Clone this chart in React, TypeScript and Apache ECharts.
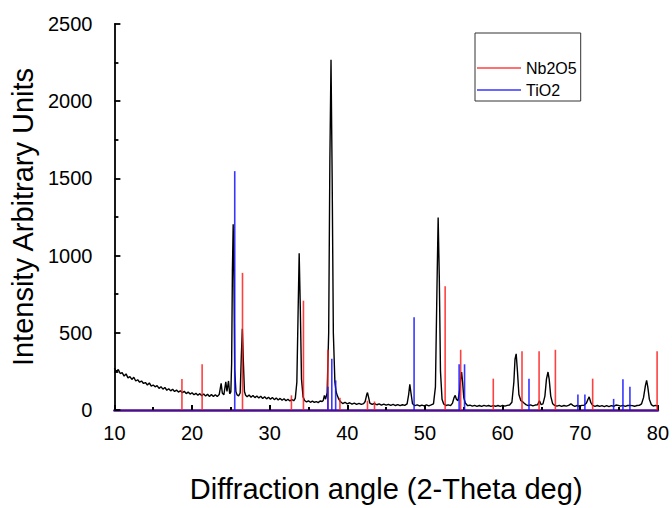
import React, { useEffect, useRef } from "react";
import * as echarts from "echarts";

// Measured XRD scan: [2-theta (deg), intensity (a.u.)]
const xrdScan: [number, number][] = [
  [10.0, 272], [10.25, 248], [10.5, 262], [10.75, 236], [11.0, 242], [11.25, 220], [11.5, 234], [11.75, 208],
  [12.0, 216], [12.25, 198], [12.5, 212], [12.75, 188], [13.0, 196], [13.25, 180], [13.5, 188], [13.75, 172],
  [14.0, 178], [14.25, 162], [14.5, 175], [14.75, 155], [15.0, 162], [15.25, 150], [15.5, 158], [15.75, 140],
  [16.0, 151], [16.25, 135], [16.5, 146], [16.75, 128], [17.0, 138], [17.25, 124], [17.5, 134], [17.75, 120],
  [18.0, 129], [18.25, 116], [18.5, 125], [18.75, 112], [19.0, 121], [19.25, 106], [19.5, 116], [19.75, 103],
  [20.0, 112], [20.25, 99], [20.5, 108], [20.75, 96], [21.0, 106], [21.25, 92], [21.5, 104], [21.75, 90],
  [22.0, 102], [22.25, 88], [22.5, 100], [22.75, 87], [23.0, 99], [23.25, 88], [23.5, 100], [23.75, 172],
  [23.9, 110], [24.1, 98], [24.35, 183], [24.5, 120], [24.7, 188], [24.85, 105], [25.0, 118], [25.1, 300],
  [25.2, 900], [25.3, 1203], [25.4, 850], [25.5, 260], [25.65, 120], [25.8, 98], [26.0, 92], [26.2, 110],
  [26.35, 350], [26.48, 526], [26.6, 330], [26.75, 120], [26.9, 96], [27.1, 86], [27.35, 97], [27.6, 83],
  [27.85, 94], [28.1, 80], [28.35, 91], [28.6, 78], [28.85, 89], [29.1, 75], [29.35, 86], [29.6, 72],
  [29.85, 83], [30.1, 70], [30.35, 81], [30.6, 67], [30.85, 78], [31.1, 65], [31.35, 75], [31.6, 63],
  [31.85, 73], [32.1, 60], [32.35, 70], [32.6, 58], [32.85, 68], [33.1, 60], [33.3, 75], [33.5, 180],
  [33.65, 600], [33.8, 1015], [33.95, 650], [34.1, 200], [34.3, 85], [34.5, 62], [34.75, 52], [35.0, 59],
  [35.25, 50], [35.5, 57], [35.75, 49], [36.0, 55], [36.25, 48], [36.5, 58], [36.75, 55], [36.9, 62],
  [37.05, 95], [37.2, 70], [37.4, 110], [37.6, 500], [37.75, 1600], [37.9, 2268], [38.05, 1500], [38.2, 500],
  [38.4, 180], [38.55, 120], [38.7, 95], [38.9, 70], [39.1, 55], [39.4, 42], [39.7, 50], [40.0, 40],
  [40.3, 47], [40.6, 38], [40.9, 45], [41.2, 37], [41.5, 43], [41.8, 36], [42.1, 41], [42.3, 55],
  [42.5, 100], [42.6, 113], [42.75, 80], [42.9, 45], [43.2, 36], [43.5, 42], [43.8, 34], [44.1, 40],
  [44.4, 32], [44.7, 38], [45.0, 31], [45.3, 37], [45.6, 30], [45.9, 36], [46.2, 29], [46.5, 35],
  [46.8, 28], [47.1, 34], [47.4, 30], [47.7, 40], [47.9, 100], [48.05, 166], [48.2, 110], [48.4, 40],
  [48.7, 28], [49.0, 33], [49.3, 26], [49.6, 32], [49.9, 27], [50.2, 33], [50.5, 27], [50.8, 33],
  [51.1, 40], [51.35, 150], [51.55, 800], [51.7, 1246], [51.85, 850], [52.0, 250], [52.2, 70], [52.4, 40],
  [52.7, 29], [53.0, 33], [53.3, 28], [53.55, 45], [53.75, 80], [53.9, 95], [54.05, 70], [54.25, 60],
  [54.45, 120], [54.6, 200], [54.72, 246], [54.85, 180], [55.0, 80], [55.2, 45], [55.5, 28], [55.8, 31],
  [56.1, 25], [56.4, 30], [56.7, 24], [57.0, 29], [57.3, 24], [57.6, 30], [57.9, 25], [58.2, 29],
  [58.5, 23], [58.8, 28], [59.1, 24], [59.4, 29], [59.7, 24], [60.0, 30], [60.3, 25], [60.6, 30],
  [60.9, 32], [61.2, 50], [61.45, 180], [61.6, 330], [61.75, 364], [61.9, 260], [62.1, 100], [62.35, 60],
  [62.55, 55], [62.75, 45], [63.0, 35], [63.3, 28], [63.6, 33], [63.9, 27], [64.2, 32], [64.5, 34],
  [64.75, 60], [64.95, 35], [65.2, 40], [65.45, 90], [65.65, 200], [65.85, 246], [66.0, 200], [66.2, 90],
  [66.45, 40], [66.7, 30], [67.0, 25], [67.3, 30], [67.6, 24], [67.9, 29], [68.2, 25], [68.5, 30],
  [68.8, 40], [69.05, 30], [69.3, 24], [69.6, 29], [69.9, 24], [70.2, 30], [70.5, 30], [70.8, 45],
  [71.0, 70], [71.15, 85], [71.35, 50], [71.6, 30], [71.9, 24], [72.2, 29], [72.5, 23], [72.8, 28],
  [73.1, 22], [73.4, 28], [73.7, 22], [74.0, 28], [74.3, 24], [74.6, 32], [74.9, 30], [75.2, 25],
  [75.5, 30], [75.8, 24], [76.1, 29], [76.4, 30], [76.7, 28], [77.0, 24], [77.3, 29], [77.6, 30],
  [77.9, 40], [78.15, 80], [78.4, 160], [78.55, 192], [78.7, 150], [78.9, 70], [79.15, 35], [79.4, 26],
  [79.7, 30], [80.0, 25],
];

// Reference pattern sticks
const nb2o5Angles = [18.7, 21.3, 26.5, 32.8, 34.35, 37.5, 39.05, 42.6, 43.5, 52.6, 54.6, 58.8, 62.5, 64.7, 66.8, 71.6, 79.9];
const nb2o5Heights = [200, 296, 888, 95, 708, 390, 80, 60, 55, 801, 390, 203, 380, 380, 390, 203, 380];
const tio2Angles = [25.5, 37.5, 38.0, 38.5, 48.6, 54.4, 55.1, 63.4, 69.7, 70.6, 74.3, 75.5, 76.4];
const tio2Heights = [1547, 150, 332, 192, 601, 296, 296, 203, 100, 100, 72, 199, 150];

const xTicks = { min: 10, max: 80, interval: 10 };
const yTicks = { min: 0, max: 2500, interval: 500 };

const FONT = "'Liberation Sans', Arial, sans-serif";

export default function App() {
  const ref = useRef<HTMLDivElement>(null);
  useEffect(() => {
    if (!ref.current) return;
    const chart = echarts.init(ref.current, undefined, { renderer: "svg" });
    const nbData = nb2o5Angles.map((a, i) => [a, nb2o5Heights[i]]);
    const tiData = tio2Angles.map((a, i) => [a, tio2Heights[i]]);
    chart.setOption({
      animation: false,
      backgroundColor: "#ffffff",
      textStyle: { fontFamily: FONT },
      grid: { left: 107, right: 14, top: 24, bottom: 96.5, containLabel: false },
      legend: {
        orient: "vertical",
        left: 475,
        top: 33,
        padding: [27, 4, 3, 2],
        itemGap: 6,
        itemWidth: 44,
        itemHeight: 1.5,
        borderColor: "#333",
        borderWidth: 1,
        backgroundColor: "#fff",
        textStyle: { fontSize: 16, color: "#000", fontFamily: FONT },
        data: [
          { name: "Nb2O5", icon: "rect" },
          { name: "TiO2", icon: "rect" },
        ],
      },
      xAxis: {
        type: "value",
        min: xTicks.min,
        max: xTicks.max,
        interval: xTicks.interval,
        name: "Diffraction angle (2-Theta deg)",
        nameLocation: "middle",
        nameGap: 64,
        nameTextStyle: { fontSize: 29, color: "#000", fontFamily: FONT },
        axisLine: { show: true, onZero: false, lineStyle: { color: "#4b0f8c", width: 2.5 } },
        axisTick: { show: true, inside: true, length: 5, lineStyle: { color: "#000", width: 2 } },
        minorTick: { show: true, splitNumber: 2, length: 3, lineStyle: { color: "#000", width: 2 } },
        axisLabel: { fontSize: 20, color: "#000", margin: 13, fontFamily: FONT },
        splitLine: { show: false },
      },
      yAxis: {
        type: "value",
        min: yTicks.min,
        max: yTicks.max,
        interval: yTicks.interval,
        name: "Intensity Arbitrary Units",
        nameLocation: "middle",
        nameGap: 66,
        nameTextStyle: { fontSize: 29, color: "#000", fontFamily: FONT },
        axisLine: { show: true, lineStyle: { color: "#000", width: 1.8 } },
        axisTick: { show: true, inside: true, length: 6, lineStyle: { color: "#000", width: 1.8 } },
        minorTick: { show: true, splitNumber: 2, length: 4, lineStyle: { color: "#000", width: 1.8 } },
        axisLabel: {
          fontSize: 20,
          color: "#000",
          margin: 22,
          fontFamily: FONT,
          formatter: (v: number) => String(v),
        },
        splitLine: { show: false },
      },
      series: [
        {
          name: "scan",
          type: "line",
          data: xrdScan,
          showSymbol: false,
          symbol: "none",
          lineStyle: { color: "#000", width: 1.4 },
          z: 2,
        },
        {
          name: "Nb2O5",
          type: "bar",
          data: nbData,
          barWidth: 1.6,
          barGap: "-100%",
          itemStyle: { color: "rgba(255,30,30,0.85)" },
          z: 3,
        },
        {
          name: "TiO2",
          type: "bar",
          data: tiData,
          barWidth: 1.6,
          barGap: "-100%",
          itemStyle: { color: "rgba(20,20,255,0.85)" },
          z: 3,
        },
      ],
    });
    return () => chart.dispose();
  }, []);
  return (
    <div
      ref={ref}
      style={{ position: "absolute", left: 0, top: 0, width: 672, height: 508 }}
    />
  );
}
